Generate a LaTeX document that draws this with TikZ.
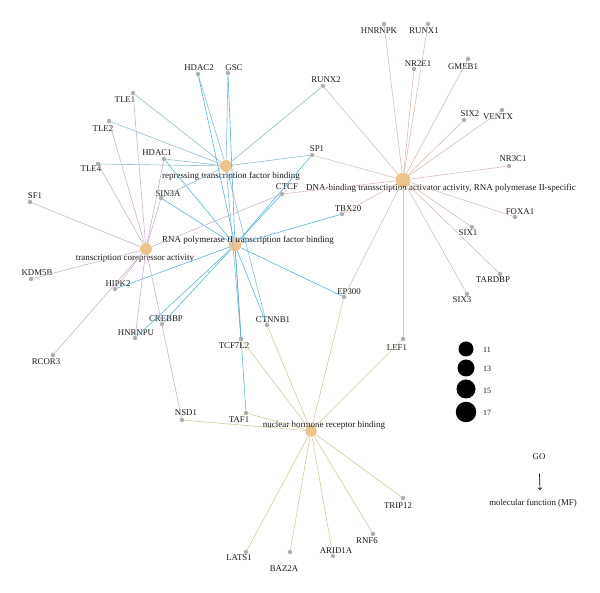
\documentclass[tikz,border=0pt]{standalone}
\usepackage{fontspec}
\setmainfont{Liberation Serif}
\usetikzlibrary{arrows}
\usetikzlibrary{positioning}

\definecolor{hubcol}{RGB}{236,196,142}
\definecolor{genecol}{RGB}{175,175,175}
\definecolor{repcol}{RGB}{145,188,205}
\definecolor{polcol}{RGB}{92,180,212}
\definecolor{corcol}{RGB}{202,178,206}
\definecolor{dnacol}{RGB}{216,190,184}
\definecolor{nuccol}{RGB}{214,201,156}

\begin{document}
\begin{tikzpicture}[x=1pt,y=-1pt,
    hub/.style={circle,fill=hubcol,inner sep=0pt,minimum size=12pt},
    gene/.style={circle,fill=genecol,inner sep=0pt,minimum size=4.5pt},
    gtext/.style={font=\fontsize{8.8}{10}\selectfont,inner sep=0.5pt,text=black!90},
    htext/.style={font=\fontsize{9}{10}\selectfont,inner sep=0pt,text=black!90},
    legdot/.style={circle,fill=black,inner sep=0pt},
    legtext/.style={font=\fontsize{8}{9}\selectfont,inner sep=0pt,text=black!90},
    repedge/.style={draw=repcol,line width=0.6pt},
    poledge/.style={draw=polcol,line width=0.6pt},
    coredge/.style={draw=corcol,line width=0.6pt},
    dnaedge/.style={draw=dnacol,line width=0.6pt},
    nucedge/.style={draw=nuccol,line width=0.6pt}]

  \useasboundingbox (0,0) rectangle (600,593);

  % term nodes
  \node [hub] (R) at (226,166) {};
  \node [hub,minimum size=12.5pt] (P) at (235,245) {};
  \node [hub] (C) at (146,249) {};
  \node [hub,minimum size=15pt] (D) at (403,180) {};
  \node [hub,minimum size=11.5pt] (N) at (311,431) {};

  \node [htext] (Rlab) at (231,176) {repressing transcription factor binding};
  \node [htext] (Plab) at (248,240) {RNA polymerase II transcription factor binding};
  \node [htext] (Clab) at (135,258) {transcription corepressor activity};
  \node [htext] (Dlab) at (441,188) {DNA-binding transsctiption activator activity, RNA polymerase II-specific};
  \node [htext] (Nlab) at (324,425) {nuclear hormone receptor binding};

  % gene nodes
  \node [gene] (HDAC2) at (198,74) {};
  \node [gene] (GSC) at (228,73) {};
  \node [gene] (RUNX2) at (323,86) {};
  \node [gene] (TLE1) at (133,93) {};
  \node [gene] (TLE2) at (109,121) {};
  \node [gene] (HDAC1) at (164,159) {};
  \node [gene] (TLE4) at (98,164) {};
  \node [gene] (SF1) at (30,202) {};
  \node [gene] (SIN3A) at (161,198) {};
  \node [gene] (SP1) at (312,155) {};
  \node [gene] (CTCF) at (282,194) {};
  \node [gene] (TBX20) at (342,214) {};
  \node [gene] (HNRNPK) at (384,24) {};
  \node [gene] (RUNX1) at (428,24) {};
  \node [gene] (NR2E1) at (414,69) {};
  \node [gene] (GMEB1) at (468,59) {};
  \node [gene] (SIX2) at (464,120) {};
  \node [gene] (VENTX) at (502,110) {};
  \node [gene] (NR3C1) at (509,166) {};
  \node [gene] (FOXA1) at (515,217) {};
  \node [gene] (SIX1) at (472,227) {};
  \node [gene] (TARDBP) at (500,274) {};
  \node [gene] (SIX3) at (467,294) {};
  \node [gene] (KDM5B) at (31,279) {};
  \node [gene] (HIPK2) at (115,289) {};
  \node [gene] (CREBBP) at (162,324) {};
  \node [gene] (HNRNPU) at (135,338) {};
  \node [gene] (RCOR3) at (53,355) {};
  \node [gene] (TCF7L2) at (241,339) {};
  \node [gene] (CTNNB1) at (267,325) {};
  \node [gene] (EP300) at (344,297) {};
  \node [gene] (LEF1) at (403,339) {};
  \node [gene] (NSD1) at (182,420) {};
  \node [gene] (TAF1) at (246,413) {};
  \node [gene] (TRIP12) at (403,498) {};
  \node [gene] (RNF6) at (373,534) {};
  \node [gene] (ARID1A) at (333,556) {};
  \node [gene] (BAZ2A) at (290,552) {};
  \node [gene] (LATS1) at (246,552) {};

  % gene labels
  \node [gtext] (HDAC2lab) at (199,68) {HDAC2};
  \node [gtext] (GSClab) at (234,68) {GSC};
  \node [gtext] (RUNX2lab) at (326,80) {RUNX2};
  \node [gtext] (TLE1lab) at (125,100) {TLE1};
  \node [gtext] (TLE2lab) at (103,129) {TLE2};
  \node [gtext] (HDAC1lab) at (157,153) {HDAC1};
  \node [gtext] (TLE4lab) at (91,169) {TLE4};
  \node [gtext] (SF1lab) at (35,196) {SF1};
  \node [gtext] (SIN3Alab) at (168,194) {SIN3A};
  \node [gtext] (SP1lab) at (317,149) {SP1};
  \node [gtext] (CTCFlab) at (287,187) {CTCF};
  \node [gtext] (TBX20lab) at (348,209) {TBX20};
  \node [gtext] (HNRNPKlab) at (379,31) {HNRNPK};
  \node [gtext] (RUNX1lab) at (424,31) {RUNX1};
  \node [gtext] (NR2E1lab) at (418,64) {NR2E1};
  \node [gtext] (GMEB1lab) at (463,67) {GMEB1};
  \node [gtext] (SIX2lab) at (470,114) {SIX2};
  \node [gtext] (VENTXlab) at (498,117) {VENTX};
  \node [gtext] (NR3C1lab) at (513,159) {NR3C1};
  \node [gtext] (FOXA1lab) at (520,212) {FOXA1};
  \node [gtext] (SIX1lab) at (468,233) {SIX1};
  \node [gtext] (TARDBPlab) at (493,280) {TARDBP};
  \node [gtext] (SIX3lab) at (462,300) {SIX3};
  \node [gtext] (KDM5Blab) at (37,273) {KDM5B};
  \node [gtext] (HIPK2lab) at (118,284) {HIPK2};
  \node [gtext] (CREBBPlab) at (166,319) {CREBBP};
  \node [gtext] (HNRNPUlab) at (136,333) {HNRNPU};
  \node [gtext] (RCOR3lab) at (46,362) {RCOR3};
  \node [gtext] (TCF7L2lab) at (234,346) {TCF7L2};
  \node [gtext] (CTNNB1lab) at (273,320) {CTNNB1};
  \node [gtext] (EP300lab) at (349,292) {EP300};
  \node [gtext] (LEF1lab) at (397,348) {LEF1};
  \node [gtext] (NSD1lab) at (186,413) {NSD1};
  \node [gtext] (TAF1lab) at (239,420) {TAF1};
  \node [gtext] (TRIP12lab) at (398,506) {TRIP12};
  \node [gtext] (RNF6lab) at (367,541) {RNF6};
  \node [gtext] (ARID1Alab) at (336,551) {ARID1A};
  \node [gtext] (BAZ2Alab) at (284,569) {BAZ2A};
  \node [gtext] (LATS1lab) at (239,558) {LATS1};

  \path [repedge]
    (R) edge (HDAC2)
    (R) edge (GSC)
    (R) edge (TLE1)
    (R) edge (TLE2)
    (R) edge (TLE4)
    (R) edge (HDAC1)
    (R) edge (RUNX2)
    (R) edge (SP1)
    (R) edge (SIN3A)
    (R) edge (TCF7L2)
    (R) edge (CTNNB1);

  \path [poledge]
    (P) edge (HDAC2)
    (P) edge (GSC)
    (P) edge (HDAC1)
    (P) edge (SIN3A)
    (P) edge (SP1)
    (P) edge (CTCF)
    (P) edge (TBX20)
    (P) edge (EP300)
    (P) edge (CTNNB1)
    (P) edge (TCF7L2)
    (P) edge (TAF1)
    (P) edge (CREBBP)
    (P) edge (HNRNPU)
    (P) edge (HIPK2);

  \path [coredge]
    (C) edge (SF1)
    (C) edge (TLE1)
    (C) edge (TLE2)
    (C) edge (TLE4)
    (C) edge (HDAC1)
    (C) edge (SIN3A)
    (C) edge (CTCF)
    (C) edge (KDM5B)
    (C) edge (HIPK2)
    (C) edge (RCOR3)
    (C) edge (HNRNPU)
    (C) edge (NSD1);

  \path [dnaedge]
    (D) edge (HNRNPK)
    (D) edge (RUNX1)
    (D) edge (NR2E1)
    (D) edge (GMEB1)
    (D) edge (SIX2)
    (D) edge (VENTX)
    (D) edge (NR3C1)
    (D) edge (FOXA1)
    (D) edge (SIX1)
    (D) edge (TARDBP)
    (D) edge (SIX3)
    (D) edge (LEF1)
    (D) edge (EP300)
    (D) edge (TBX20)
    (D) edge (CTCF)
    (D) edge (SP1)
    (D) edge (RUNX2);

  \path [nucedge]
    (N) edge (NSD1)
    (N) edge (TAF1)
    (N) edge (TCF7L2)
    (N) edge (CTNNB1)
    (N) edge (EP300)
    (N) edge (LEF1)
    (N) edge (TRIP12)
    (N) edge (RNF6)
    (N) edge (ARID1A)
    (N) edge (BAZ2A)
    (N) edge (LATS1);

  % size legend
  \node [legdot,minimum size=15pt] (s11) at (466,349) {};
  \node [legdot,minimum size=17pt] (s13) at (466,368) {};
  \node [legdot,minimum size=19pt] (s15) at (466,389) {};
  \node [legdot,minimum size=20.5pt] (s17) at (466,412) {};
  \node [legtext] (l11) at (487,350) {11};
  \node [legtext] (l13) at (487,369) {13};
  \node [legtext] (l15) at (487,391) {15};
  \node [legtext] (l17) at (487,413) {17};

  \node [gtext] (GO) at (539,457) {GO};
  \node [gtext] (MF) at (533,503) {molecular function (MF)};
  \coordinate (GOend) at (540,490);
  \draw [->,>=to,line width=0.7pt,shorten <=13pt] (GO) -- (GOend);

\end{tikzpicture}
\end{document}
